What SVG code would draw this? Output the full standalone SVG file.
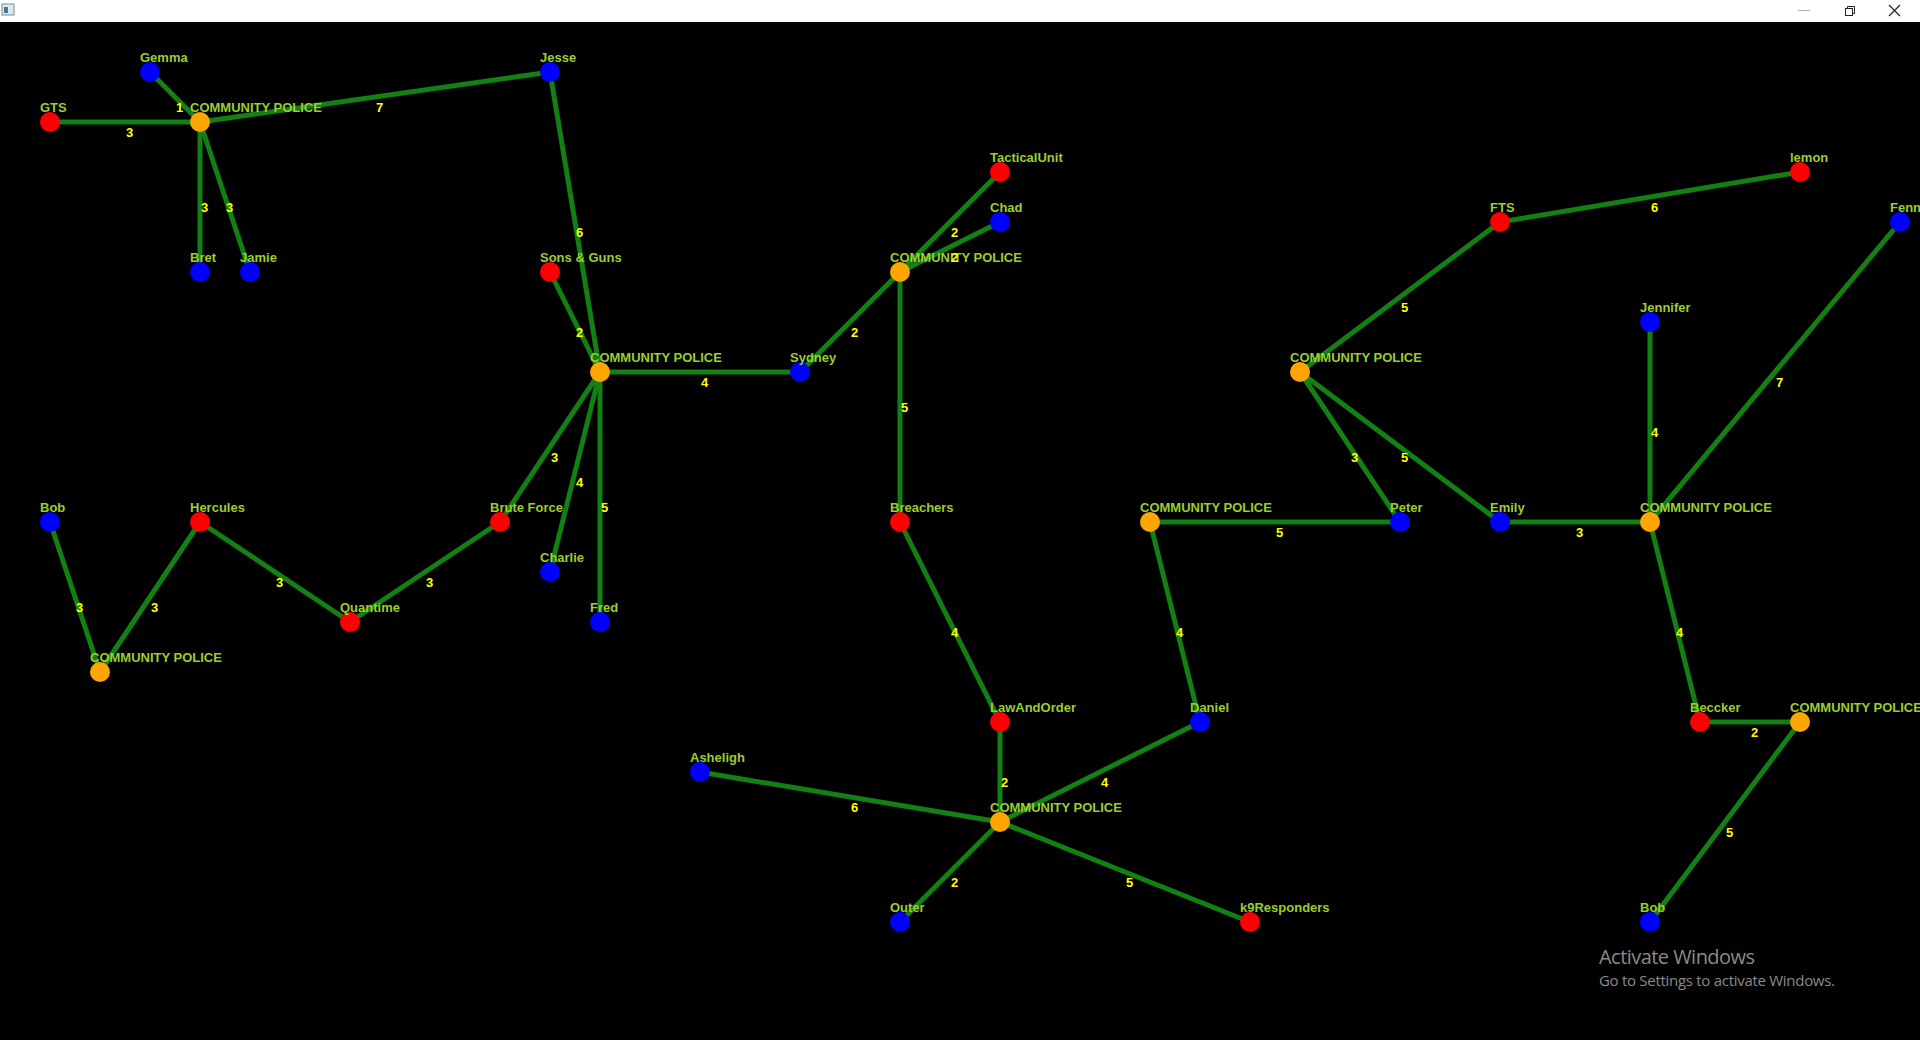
<svg xmlns="http://www.w3.org/2000/svg" width="1920" height="1040" viewBox="0 0 1920 1040">
<style>
.e{stroke:#128012;stroke-width:5;fill:none}
.w{font-family:"Liberation Sans",Arial,sans-serif;font-weight:bold;font-size:13px;fill:#ffff00}
.l{font-family:"Liberation Sans",Arial,sans-serif;font-weight:bold;font-size:13px;fill:#9acd32}
.r{fill:#ff0000}.b{fill:#0000ff}.o{fill:#ffa500}
.wm{font-family:"Open Sans","Liberation Sans",sans-serif;fill:#8a8a8a}
</style>
<rect x="0" y="0" width="1920" height="1040" fill="#000"/>
<g id="titlebar">
<rect x="0" y="0" width="1920" height="22" fill="#fff"/>
<rect x="2" y="4" width="12" height="11" fill="#dfe8ee" stroke="#7a8c99" stroke-width="1"/>
<rect x="4" y="7" width="4" height="6" fill="#3d7a9c"/>
<line x1="1798" y1="10.5" x2="1810" y2="10.5" stroke="#b0b0b0" stroke-width="1"/>
<rect x="1845.5" y="8.5" width="7" height="7" fill="none" stroke="#222" stroke-width="1"/>
<path d="M1847.5 8.5V6.5H1854.5V13.5H1852.5" fill="none" stroke="#222" stroke-width="1"/>
<path d="M1889 5L1900 16M1900 5L1889 16" stroke="#222" stroke-width="1.2"/>
</g>
<g id="connectors">
<line class="e" x1="50" y1="122" x2="200" y2="122"/>
<line class="e" x1="150" y1="72" x2="200" y2="122"/>
<line class="e" x1="200" y1="122" x2="550" y2="72"/>
<line class="e" x1="200" y1="122" x2="200" y2="272"/>
<line class="e" x1="200" y1="122" x2="250" y2="272"/>
<line class="e" x1="550" y1="72" x2="600" y2="372"/>
<line class="e" x1="550" y1="272" x2="600" y2="372"/>
<line class="e" x1="600" y1="372" x2="800" y2="372"/>
<line class="e" x1="600" y1="372" x2="500" y2="522"/>
<line class="e" x1="600" y1="372" x2="550" y2="572"/>
<line class="e" x1="600" y1="372" x2="600" y2="622"/>
<line class="e" x1="800" y1="372" x2="900" y2="272"/>
<line class="e" x1="900" y1="272" x2="1000" y2="172"/>
<line class="e" x1="900" y1="272" x2="1000" y2="222"/>
<line class="e" x1="900" y1="272" x2="900" y2="522"/>
<line class="e" x1="500" y1="522" x2="350" y2="622"/>
<line class="e" x1="200" y1="522" x2="350" y2="622"/>
<line class="e" x1="200" y1="522" x2="100" y2="672"/>
<line class="e" x1="50" y1="522" x2="100" y2="672"/>
<line class="e" x1="900" y1="522" x2="1000" y2="722"/>
<line class="e" x1="1000" y1="722" x2="1000" y2="822"/>
<line class="e" x1="1200" y1="722" x2="1000" y2="822"/>
<line class="e" x1="700" y1="772" x2="1000" y2="822"/>
<line class="e" x1="1000" y1="822" x2="900" y2="922"/>
<line class="e" x1="1000" y1="822" x2="1250" y2="922"/>
<line class="e" x1="1150" y1="522" x2="1200" y2="722"/>
<line class="e" x1="1150" y1="522" x2="1400" y2="522"/>
<line class="e" x1="1300" y1="372" x2="1400" y2="522"/>
<line class="e" x1="1300" y1="372" x2="1500" y2="522"/>
<line class="e" x1="1300" y1="372" x2="1500" y2="222"/>
<line class="e" x1="1500" y1="222" x2="1800" y2="172"/>
<line class="e" x1="1500" y1="522" x2="1650" y2="522"/>
<line class="e" x1="1650" y1="522" x2="1650" y2="322"/>
<line class="e" x1="1650" y1="522" x2="1900" y2="222"/>
<line class="e" x1="1650" y1="522" x2="1700" y2="722"/>
<line class="e" x1="1700" y1="722" x2="1800" y2="722"/>
<line class="e" x1="1800" y1="722" x2="1650" y2="922"/>
</g>
<g id="nodes">
<g id="n-gemma"><circle class="b" cx="150" cy="72" r="10"/><text class="l" x="140" y="62">Gemma</text></g>
<g id="n-gts"><circle class="r" cx="50" cy="122" r="10"/><text class="l" x="40" y="112">GTS</text></g>
<g id="n-cp1"><circle class="o" cx="200" cy="122" r="10"/><text class="l" x="190" y="112">COMMUNITY POLICE</text></g>
<g id="n-jesse"><circle class="b" cx="550" cy="72" r="10"/><text class="l" x="540" y="62">Jesse</text></g>
<g id="n-bret"><circle class="b" cx="200" cy="272" r="10"/><text class="l" x="190" y="262">Bret</text></g>
<g id="n-jamie"><circle class="b" cx="250" cy="272" r="10"/><text class="l" x="240" y="262">Jamie</text></g>
<g id="n-tactical"><circle class="r" cx="1000" cy="172" r="10"/><text class="l" x="990" y="162">TacticalUnit</text></g>
<g id="n-chad"><circle class="b" cx="1000" cy="222" r="10"/><text class="l" x="990" y="212">Chad</text></g>
<g id="n-cp2"><circle class="o" cx="900" cy="272" r="10"/><text class="l" x="890" y="262">COMMUNITY POLICE</text></g>
<g id="n-sons"><circle class="r" cx="550" cy="272" r="10"/><text class="l" x="540" y="262">Sons &amp; Guns</text></g>
<g id="n-cp3"><circle class="o" cx="600" cy="372" r="10"/><text class="l" x="590" y="362">COMMUNITY POLICE</text></g>
<g id="n-sydney"><circle class="b" cx="800" cy="372" r="10"/><text class="l" x="790" y="362">Sydney</text></g>
<g id="n-fts"><circle class="r" cx="1500" cy="222" r="10"/><text class="l" x="1490" y="212">FTS</text></g>
<g id="n-lemon"><circle class="r" cx="1800" cy="172" r="10"/><text class="l" x="1790" y="162">lemon</text></g>
<g id="n-fenn"><circle class="b" cx="1900" cy="222" r="10"/><text class="l" x="1890" y="212">Fenn</text></g>
<g id="n-jennifer"><circle class="b" cx="1650" cy="322" r="10"/><text class="l" x="1640" y="312">Jennifer</text></g>
<g id="n-cp4"><circle class="o" cx="1300" cy="372" r="10"/><text class="l" x="1290" y="362">COMMUNITY POLICE</text></g>
<g id="n-bob"><circle class="b" cx="50" cy="522" r="10"/><text class="l" x="40" y="512">Bob</text></g>
<g id="n-hercules"><circle class="r" cx="200" cy="522" r="10"/><text class="l" x="190" y="512">Hercules</text></g>
<g id="n-brute"><circle class="r" cx="500" cy="522" r="10"/><text class="l" x="490" y="512">Brute Force</text></g>
<g id="n-charlie"><circle class="b" cx="550" cy="572" r="10"/><text class="l" x="540" y="562">Charlie</text></g>
<g id="n-fred"><circle class="b" cx="600" cy="622" r="10"/><text class="l" x="590" y="612">Fred</text></g>
<g id="n-quantime"><circle class="r" cx="350" cy="622" r="10"/><text class="l" x="340" y="612">Quantime</text></g>
<g id="n-cp5"><circle class="o" cx="100" cy="672" r="10"/><text class="l" x="90" y="662">COMMUNITY POLICE</text></g>
<g id="n-breachers"><circle class="r" cx="900" cy="522" r="10"/><text class="l" x="890" y="512">Breachers</text></g>
<g id="n-cp6"><circle class="o" cx="1150" cy="522" r="10"/><text class="l" x="1140" y="512">COMMUNITY POLICE</text></g>
<g id="n-peter"><circle class="b" cx="1400" cy="522" r="10"/><text class="l" x="1390" y="512">Peter</text></g>
<g id="n-emily"><circle class="b" cx="1500" cy="522" r="10"/><text class="l" x="1490" y="512">Emily</text></g>
<g id="n-cp7"><circle class="o" cx="1650" cy="522" r="10"/><text class="l" x="1640" y="512">COMMUNITY POLICE</text></g>
<g id="n-law"><circle class="r" cx="1000" cy="722" r="10"/><text class="l" x="990" y="712">LawAndOrder</text></g>
<g id="n-daniel"><circle class="b" cx="1200" cy="722" r="10"/><text class="l" x="1190" y="712">Daniel</text></g>
<g id="n-asheligh"><circle class="b" cx="700" cy="772" r="10"/><text class="l" x="690" y="762">Asheligh</text></g>
<g id="n-cp8"><circle class="o" cx="1000" cy="822" r="10"/><text class="l" x="990" y="812">COMMUNITY POLICE</text></g>
<g id="n-outer"><circle class="b" cx="900" cy="922" r="10"/><text class="l" x="890" y="912">Outer</text></g>
<g id="n-k9"><circle class="r" cx="1250" cy="922" r="10"/><text class="l" x="1240" y="912">k9Responders</text></g>
<g id="n-beccker"><circle class="r" cx="1700" cy="722" r="10"/><text class="l" x="1690" y="712">Beccker</text></g>
<g id="n-cp9"><circle class="o" cx="1800" cy="722" r="10"/><text class="l" x="1790" y="712">COMMUNITY POLICE</text></g>
<g id="n-bob2"><circle class="b" cx="1650" cy="922" r="10"/><text class="l" x="1640" y="912">Bob</text></g>
</g>
<g id="weights">
<text class="w" x="126" y="137">3</text>
<text class="w" x="176" y="112">1</text>
<text class="w" x="376" y="112">7</text>
<text class="w" x="201" y="212">3</text>
<text class="w" x="226" y="212">3</text>
<text class="w" x="576" y="237">6</text>
<text class="w" x="576" y="337">2</text>
<text class="w" x="701" y="387">4</text>
<text class="w" x="551" y="462">3</text>
<text class="w" x="576" y="487">4</text>
<text class="w" x="601" y="512">5</text>
<text class="w" x="851" y="337">2</text>
<text class="w" x="951" y="237">2</text>
<text class="w" x="951" y="262">2</text>
<text class="w" x="901" y="412">5</text>
<text class="w" x="426" y="587">3</text>
<text class="w" x="276" y="587">3</text>
<text class="w" x="151" y="612">3</text>
<text class="w" x="76" y="612">3</text>
<text class="w" x="951" y="637">4</text>
<text class="w" x="1001" y="787">2</text>
<text class="w" x="1101" y="787">4</text>
<text class="w" x="851" y="812">6</text>
<text class="w" x="951" y="887">2</text>
<text class="w" x="1126" y="887">5</text>
<text class="w" x="1176" y="637">4</text>
<text class="w" x="1276" y="537">5</text>
<text class="w" x="1351" y="462">3</text>
<text class="w" x="1401" y="462">5</text>
<text class="w" x="1401" y="312">5</text>
<text class="w" x="1651" y="212">6</text>
<text class="w" x="1576" y="537">3</text>
<text class="w" x="1651" y="437">4</text>
<text class="w" x="1776" y="387">7</text>
<text class="w" x="1676" y="637">4</text>
<text class="w" x="1751" y="737">2</text>
<text class="w" x="1726" y="837">5</text>
</g>
<g id="watermark">
<text class="wm" x="1599" y="964" font-size="20" textLength="156">Activate Windows</text>
<text class="wm" x="1599" y="986" font-size="15" textLength="236">Go to Settings to activate Windows.</text>
</g>
</svg>
